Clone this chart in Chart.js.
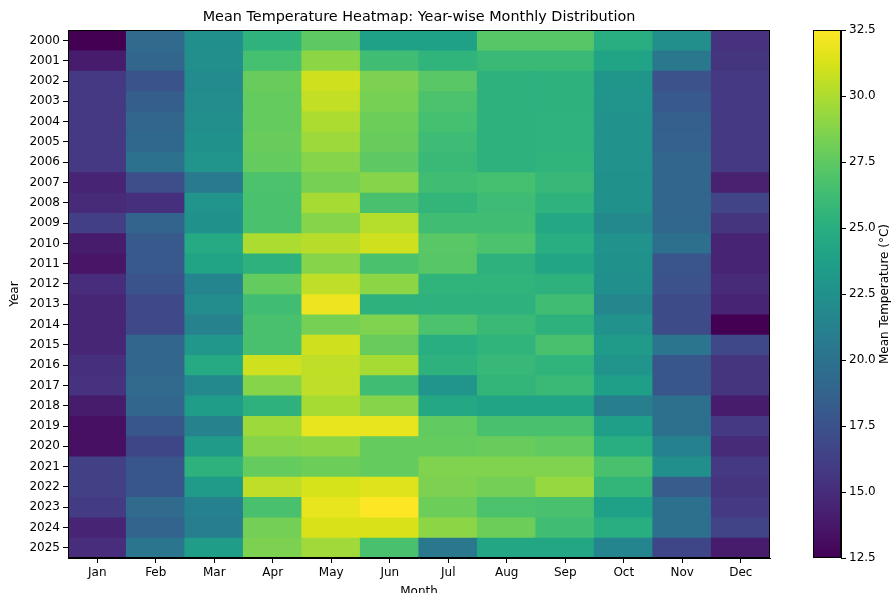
<!DOCTYPE html>
<html>
<head>
<meta charset="utf-8">
<script src="https://cdn.jsdelivr.net/npm/chart.js@4.4.1/dist/chart.umd.min.js"></script>
<style>
  html, body { margin: 0; padding: 0; background: #fff; overflow: hidden; }
  #wrap { position: relative; width: 891px; height: 593px; overflow: hidden; }
  #heatBox { position: absolute; left: 0; top: 0; width: 780px; height: 600px; }
  #barBox { position: absolute; left: 800px; top: 0; width: 91px; height: 593px; }
</style>
</head>
<body>
<div id="wrap">
  <div id="heatBox"><canvas id="heatmap"></canvas></div>
  <div id="barBox"><canvas id="colorbar"></canvas></div>
</div>
<script>
const months = ['Jan', 'Feb', 'Mar', 'Apr', 'May', 'Jun', 'Jul', 'Aug', 'Sep', 'Oct', 'Nov', 'Dec'];
const years = ['2000', '2001', '2002', '2003', '2004', '2005', '2006', '2007', '2008', '2009', '2010', '2011', '2012',
  '2013', '2014', '2015', '2016', '2017', '2018', '2019', '2020', '2021', '2022', '2023', '2024', '2025'];

// mean temperature per month (°C), one row per year
const t2000 = [12.5, 19.3, 22.4, 25.4, 27.5, 23.8, 23.8, 27.2, 27.2, 25.0, 22.3, 15.3];
const t2001 = [14.0, 19.0, 22.3, 26.5, 29.0, 26.3, 25.5, 26.0, 26.0, 24.0, 20.5, 15.5];
const t2002 = [15.8, 17.6, 22.0, 27.8, 31.0, 28.5, 27.3, 25.3, 25.3, 22.9, 17.5, 15.8];
const t2003 = [15.8, 18.4, 22.2, 27.7, 30.6, 28.3, 26.8, 25.3, 25.3, 22.8, 18.0, 15.8];
const t2004 = [15.8, 19.0, 22.3, 27.7, 30.0, 28.0, 26.5, 25.3, 25.4, 22.6, 18.5, 15.8];
const t2005 = [15.8, 19.2, 22.5, 27.8, 29.5, 27.8, 26.2, 25.3, 25.4, 22.6, 18.6, 15.8];
const t2006 = [15.8, 20.0, 22.8, 27.7, 28.8, 27.5, 26.0, 25.3, 25.5, 22.6, 19.0, 15.8];
const t2007 = [14.5, 17.3, 20.6, 26.8, 28.3, 28.8, 26.3, 26.5, 25.8, 22.5, 19.0, 14.3];
const t2008 = [14.8, 15.2, 22.8, 26.7, 29.8, 26.6, 25.6, 26.2, 25.4, 22.5, 19.0, 16.5];
const t2009 = [16.2, 18.8, 22.5, 26.7, 28.8, 30.2, 26.3, 26.3, 24.5, 21.8, 19.1, 15.5];
const t2010 = [14.0, 18.0, 24.6, 30.0, 30.3, 31.0, 27.3, 26.8, 25.0, 22.6, 19.8, 14.5];
const t2011 = [13.6, 18.0, 24.0, 25.3, 28.8, 26.7, 27.2, 25.3, 24.2, 22.5, 17.7, 14.5];
const t2012 = [15.0, 17.6, 21.5, 27.7, 30.5, 29.0, 25.5, 25.5, 25.3, 22.4, 17.5, 14.8];
const t2013 = [14.6, 16.8, 22.2, 26.3, 32.0, 25.3, 25.3, 25.3, 26.3, 21.7, 17.0, 14.5];
const t2014 = [14.6, 16.8, 21.3, 26.6, 28.3, 28.6, 26.8, 26.0, 25.3, 22.6, 17.0, 12.5];
const t2015 = [14.6, 19.0, 23.0, 26.6, 31.0, 27.8, 25.0, 25.5, 26.6, 23.3, 20.2, 16.8];
const t2016 = [15.2, 19.0, 24.6, 31.0, 30.5, 29.8, 25.3, 25.8, 25.5, 22.8, 17.8, 15.5];
const t2017 = [15.3, 19.3, 21.8, 28.8, 30.5, 26.3, 22.8, 25.6, 26.0, 23.6, 17.8, 15.5];
const t2018 = [14.0, 19.0, 23.5, 25.3, 29.8, 28.8, 24.5, 24.0, 24.0, 21.0, 19.8, 14.0];
const t2019 = [13.3, 17.8, 21.3, 29.5, 31.8, 31.8, 27.6, 26.6, 26.6, 23.6, 19.8, 15.8];
const t2020 = [13.3, 16.7, 23.3, 28.8, 29.0, 27.7, 27.7, 27.8, 27.6, 25.0, 21.2, 14.8];
const t2021 = [16.3, 17.8, 25.3, 27.7, 28.0, 27.7, 28.6, 28.6, 28.6, 26.6, 22.4, 15.8];
const t2022 = [16.3, 17.8, 23.3, 30.5, 31.2, 31.5, 28.5, 28.2, 29.3, 25.6, 18.3, 15.5];
const t2023 = [16.0, 19.3, 21.2, 26.6, 31.8, 32.5, 28.0, 26.8, 26.6, 23.8, 19.8, 15.8];
const t2024 = [14.5, 18.8, 21.0, 28.2, 31.3, 31.3, 29.0, 28.0, 26.3, 25.0, 19.8, 16.5];
const t2025 = [15.0, 20.3, 23.5, 28.5, 29.6, 26.6, 20.5, 24.3, 24.3, 21.5, 16.7, 14.0];

const tempRows = [t2000, t2001, t2002, t2003, t2004, t2005, t2006, t2007, t2008, t2009, t2010, t2011, t2012,
  t2013, t2014, t2015, t2016, t2017, t2018, t2019, t2020, t2021, t2022, t2023, t2024, t2025];

const colorMin = 12.5;
const colorMax = 32.5;
const colorTicks = [12.5, 15, 17.5, 20, 22.5, 25, 27.5, 30, 32.5];

// viridis, 17 evenly spaced stops
const viridis = ['#440154', '#48186a', '#472d7b', '#424086', '#3b528b', '#33638d', '#2c728e', '#26828e',
  '#21918c', '#1fa088', '#28ae80', '#3fbc73', '#5ec962', '#84d44b', '#addc30', '#d8e219', '#fde725'];

function hexToRgb(hex) {
  const n = parseInt(hex.slice(1), 16);
  return [(n >> 16) & 255, (n >> 8) & 255, n & 255];
}

function colorFor(value) {
  let t = (value - colorMin) / (colorMax - colorMin);
  t = Math.max(0, Math.min(1, t));
  const pos = t * (viridis.length - 1);
  const i = Math.min(Math.floor(pos), viridis.length - 2);
  const f = pos - i;
  const a = hexToRgb(viridis[i]);
  const b = hexToRgb(viridis[i + 1]);
  const c = a.map((v, k) => Math.round(v + (b[k] - v) * f));
  return `rgb(${c[0]},${c[1]},${c[2]})`;
}

const frame = {
  id: 'frame',
  afterDatasetsDraw(chart) {
    const { ctx, chartArea } = chart;
    ctx.save();
    ctx.strokeStyle = '#000';
    ctx.lineWidth = 1;
    ctx.strokeRect(Math.round(chartArea.left) + 0.5, Math.round(chartArea.top) + 0.5,
      Math.round(chartArea.right - chartArea.left) - 1, Math.round(chartArea.bottom - chartArea.top) - 1);
    ctx.restore();
  }
};

const font = { family: 'DejaVu Sans', size: 12 };

// each row reaches a little into the next one so no seams show; later rows sit on top
const heatDatasets = tempRows.map((row, i) => ({
  label: years[i],
  data: row.map(() => [i - 0.5, i + 0.56]),
  backgroundColor: row.map(colorFor),
  borderWidth: 0,
  grouped: false,
  order: years.length - i,
  barPercentage: 1.02,
  categoryPercentage: 1
}));

new Chart(document.getElementById('heatmap'), {
  type: 'bar',
  data: { labels: months, datasets: heatDatasets },
  options: {
    responsive: true,
    maintainAspectRatio: false,
    animation: false,
    layout: { padding: { left: 0, right: 10, top: 0, bottom: 0 } },
    plugins: {
      legend: { display: false },
      tooltip: { enabled: false },
      title: {
        display: true,
        text: 'Mean Temperature Heatmap: Year-wise Monthly Distribution',
        color: '#000',
        fullSize: false,
        font: { family: 'DejaVu Sans', size: 14.4, weight: 'normal' },
        padding: { top: 9, bottom: 4 }
      }
    },
    scales: {
      x: {
        type: 'category',
        offset: true,
        grid: { display: true, offset: false, drawOnChartArea: false, drawTicks: true, tickLength: 5, color: '#000' },
        border: { display: true, color: '#000' },
        ticks: { color: '#000', font, padding: 3, maxRotation: 0 },
        title: { display: true, text: 'Month', color: '#000', font, padding: { top: 2, bottom: 1 } },
        afterFit(scale) { scale.height = 42; }
      },
      y: {
        type: 'linear',
        reverse: true,
        min: -0.5,
        max: 25.5,
        grid: { display: true, drawOnChartArea: false, drawTicks: true, tickLength: 5, color: '#000' },
        border: { display: true, color: '#000' },
        ticks: { color: '#000', font, padding: 3, callback: (v) => years[v] },
        afterBuildTicks(scale) { scale.ticks = years.map((_, i) => ({ value: i })); },
        title: { display: true, text: 'Year', color: '#000', font, padding: { top: 8, bottom: 4 } },
        afterFit(scale) { scale.width = 68; }
      }
    }
  },
  plugins: [frame]
});

const barLabel = {
  id: 'barLabel',
  afterDraw(chart) {
    const { ctx, chartArea } = chart;
    ctx.save();
    ctx.translate(85, (chartArea.top + chartArea.bottom) / 2);
    ctx.rotate(-Math.PI / 2);
    ctx.fillStyle = '#000';
    ctx.font = '12px "DejaVu Sans"';
    ctx.textAlign = 'center';
    ctx.textBaseline = 'middle';
    ctx.fillText('Mean Temperature (°C)', 0, 0);
    ctx.restore();
  }
};

new Chart(document.getElementById('colorbar'), {
  type: 'bar',
  data: {
    labels: [''],
    datasets: [{
      data: [[colorMin, colorMax]],
      barPercentage: 1,
      categoryPercentage: 1,
      borderWidth: 0,
      backgroundColor(context) {
        const chart = context.chart;
        if (!chart.chartArea) return viridis[8];
        const y = chart.scales.y;
        const g = chart.ctx.createLinearGradient(0, y.getPixelForValue(colorMin), 0, y.getPixelForValue(colorMax));
        viridis.forEach((c, i) => g.addColorStop(i / (viridis.length - 1), c));
        return g;
      }
    }]
  },
  options: {
    responsive: true,
    maintainAspectRatio: false,
    animation: false,
    layout: { padding: { left: 13, right: 0, top: 30, bottom: 35 } },
    plugins: { legend: { display: false }, tooltip: { enabled: false }, title: { display: false } },
    scales: {
      x: { display: false },
      y: {
        position: 'right',
        min: colorMin,
        max: colorMax,
        grid: { display: true, drawOnChartArea: false, drawTicks: true, tickLength: 5, color: '#000' },
        border: { display: true, color: '#000' },
        ticks: { color: '#000', font, padding: 3, callback: (v) => Number(v).toFixed(1) },
        afterBuildTicks(scale) { scale.ticks = colorTicks.map((v) => ({ value: v })); },
        afterFit(scale) { scale.width = 50; }
      }
    }
  },
  plugins: [frame, barLabel]
});
</script>
</body>
</html>
